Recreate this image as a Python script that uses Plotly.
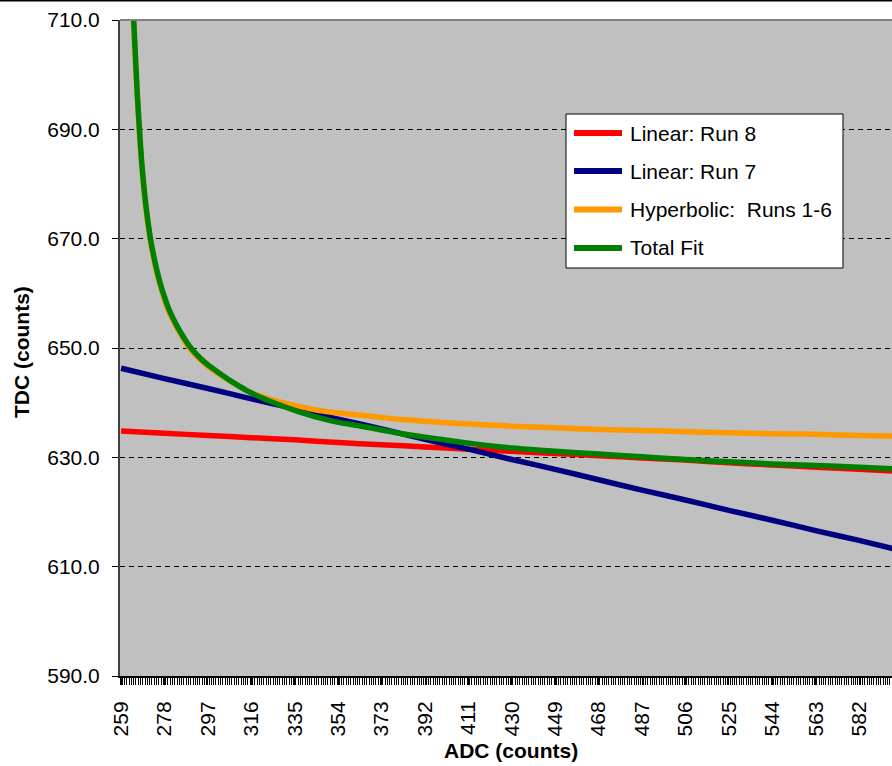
import plotly.graph_objects as go

# ---- data -------------------------------------------------------------
# Linear fits, tabulated at the labelled ADC channels
adc_linear = [259, 278, 297, 316, 335, 354, 373, 392, 411, 430,
              449, 468, 487, 506, 525, 544, 563, 582, 597]
tdc_run8 = [634.8, 634.4, 634.0, 633.6, 633.2, 632.7, 632.3, 631.9, 631.5, 631.1,
            630.7, 630.3, 629.9, 629.5, 629.0, 628.6, 628.2, 627.8, 627.5]
tdc_run7 = [646.3, 644.4, 642.6, 640.7, 638.9, 637.0, 635.2, 633.3, 631.5, 629.6,
            627.8, 625.9, 624.0, 622.2, 620.3, 618.5, 616.6, 614.8, 613.3]

# Hyperbolic fit and total fit, denser where the curve is steep
adc_curve = [264, 265, 266, 267, 268, 269, 270, 272, 274, 276,
             278, 280, 283, 286, 289, 293, 297, 302, 308, 314,
             320, 327, 335, 345, 354, 364, 373, 382, 392, 411,
             430, 449, 468, 487, 506, 525, 544, 563, 582, 597]
tdc_hyperbolic = [714.0, 705.0, 696.3, 689.3, 683.4, 678.8, 675.0, 669.1, 664.9, 661.5,
                  658.8, 656.5, 654.0, 651.8, 649.9, 648.1, 646.6, 645.2, 643.6, 642.2,
                  641.2, 640.3, 639.5, 638.6, 638.1, 637.7, 637.3, 636.9, 636.6, 636.1,
                  635.7, 635.4, 635.1, 634.9, 634.7, 634.5, 634.3, 634.2, 634.0, 633.9]
tdc_total = [714.5, 705.5, 697.0, 690.0, 684.0, 679.3, 675.5, 669.6, 665.4, 662.0,
             659.3, 657.0, 654.4, 652.2, 650.3, 648.4, 646.9, 645.4, 643.7, 642.2,
             641.0, 639.8, 638.6, 637.3, 636.4, 635.7, 635.0, 634.3, 633.7, 632.6,
             631.7, 631.1, 630.6, 630.1, 629.6, 629.2, 628.8, 628.5, 628.2, 627.9]

# Axis tick labels
adc_ticks = [259, 278, 297, 316, 335, 354, 373, 392, 411, 430,
             449, 468, 487, 506, 525, 544, 563, 582]
tdc_ticks = [590, 610, 630, 650, 670, 690, 710]

series = [
    ("Linear: Run 8", adc_linear, tdc_run8, "#FF0000"),
    ("Linear: Run 7", adc_linear, tdc_run7, "#000080"),
    ("Hyperbolic:  Runs 1-6", adc_curve, tdc_hyperbolic, "#FF9900"),
    ("Total Fit", adc_curve, tdc_total, "#008000"),
]

FONT = "Liberation Sans, Arial, sans-serif"
W, H = 892, 766
ML, MR, MT, MB = 120, 0, 20, 90
PW, PH = W - ML - MR, H - MT - MB

def px_x(p):
    return (p - ML) / PW

def px_y(p):
    return (H - MB - p) / PH

fig = go.Figure()
for name, xs, ys, color in series:
    fig.add_trace(go.Scatter(
        x=xs, y=ys, name=name, mode="lines",
        line=dict(color=color, width=5.5, shape="spline", smoothing=0.6),
        showlegend=False, hoverinfo="x+y+name",
    ))

shapes = []
annotations = []

# plot-area top border and outer frame line
shapes.append(dict(type="line", xref="paper", yref="paper",
                   x0=0, x1=1, y0=1, y1=1,
                   line=dict(color="#808080", width=2)))
shapes.append(dict(type="line", xref="paper", yref="paper",
                   x0=px_x(0), x1=1, y0=px_y(0.5), y1=px_y(0.5),
                   line=dict(color="#000000", width=2)))

# legend box
lx0, lx1, ly0, ly1 = 566, 843, 114, 268
shapes.append(dict(type="rect", xref="paper", yref="paper",
                   x0=px_x(lx0), x1=px_x(lx1), y0=px_y(ly1), y1=px_y(ly0),
                   fillcolor="#FFFFFF", line=dict(color="#000000", width=1)))
row_y = [133, 171, 209.5, 248]
for (name, _, _, color), ry in zip(series, row_y):
    shapes.append(dict(type="line", xref="paper", yref="paper",
                       x0=px_x(574), x1=px_x(622), y0=px_y(ry), y1=px_y(ry),
                       line=dict(color=color, width=6)))
    annotations.append(dict(xref="paper", yref="paper", x=px_x(628), y=px_y(ry),
                            xanchor="left", yanchor="middle", showarrow=False,
                            text=name, font=dict(family=FONT, size=21, color="#000000")))

# axis titles
annotations.append(dict(xref="paper", yref="paper", x=px_x(511), y=px_y(750),
                        xanchor="center", yanchor="middle", showarrow=False,
                        text="<b>ADC (counts)</b>",
                        font=dict(family=FONT, size=21, color="#000000")))
annotations.append(dict(xref="paper", yref="paper", x=px_x(21), y=px_y(352),
                        xanchor="center", yanchor="middle", showarrow=False,
                        textangle=-90, text="<b>TDC (counts)</b>",
                        font=dict(family=FONT, size=21, color="#000000")))

fig.update_layout(
    width=W, height=H,
    margin=dict(l=ML, r=MR, t=MT, b=MB, pad=0),
    paper_bgcolor="#FFFFFF", plot_bgcolor="#C0C0C0",
    font=dict(family=FONT, size=21, color="#000000"),
    shapes=shapes, annotations=annotations,
    showlegend=False,
)
fig.update_xaxes(
    range=[258.5, 596.4],
    tickmode="array", tickvals=adc_ticks, ticktext=[str(v) for v in adc_ticks],
    tickangle=-90, ticks="outside", ticklen=7, tickcolor="#000000", tickwidth=1,
    minor=dict(ticks="outside", ticklen=7, tick0=258.5, dtick=1,
               tickcolor="#000000", tickwidth=1, showgrid=False),
    showgrid=False, zeroline=False,
    showline=True, linecolor="#000000", linewidth=2,
    ticklabelstandoff=8,
    tickfont=dict(family=FONT, size=21, color="#000000"),
)
fig.update_yaxes(
    range=[590, 710],
    tickmode="array", tickvals=tdc_ticks, ticktext=[f"{v:.1f}" for v in tdc_ticks],
    ticks="outside", ticklen=6, tickcolor="#000000", tickwidth=1,
    showgrid=True, gridcolor="#000000", gridwidth=1, griddash="5px,4px",
    zeroline=False,
    showline=True, linecolor="#404040", linewidth=2,
    ticklabelstandoff=8,
    tickfont=dict(family=FONT, size=21, color="#000000"),
)

fig.write_html("out.html")
